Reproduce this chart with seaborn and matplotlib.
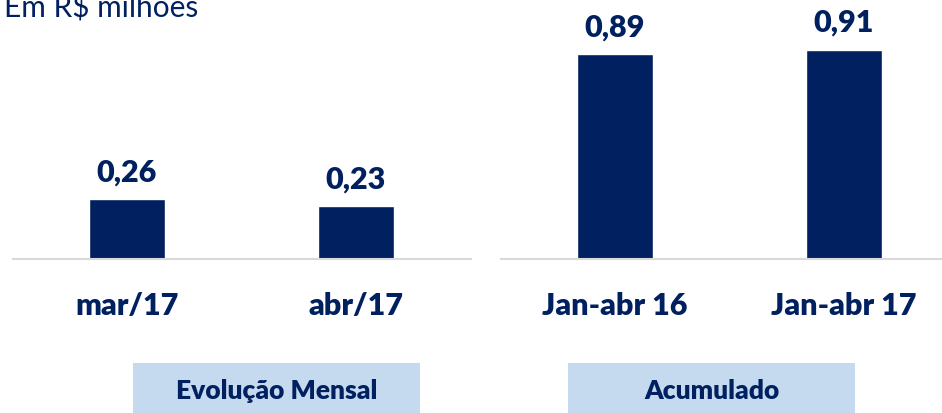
import matplotlib
matplotlib.use('Agg')
import matplotlib.pyplot as plt
import seaborn as sns
import pandas as pd
from matplotlib.patches import Rectangle

# Values (R$ milhões)
monthly_labels = ['mar/17', 'abr/17']
monthly_values = [0.26, 0.23]
accum_labels = ['Jan-abr 16', 'Jan-abr 17']
accum_values = [0.89, 0.91]
panel_titles = ['Evolução Mensal', 'Acumulado']
unit_text = 'Em R$ milhões'

navy = '#002060'
box_blue = '#C5DAEE'
axis_grey = '#D9D9D9'

sns.set_style('white')
plt.rcParams['font.family'] = ['Lato', 'DejaVu Sans']

W, H = 942, 413
fig = plt.figure(figsize=(W / 100, H / 100), dpi=100)

# axes in pixel terms: baseline at y=259 from top, ~230 px per unit
ax1 = fig.add_axes([12.5 / W, 154 / H, 458 / W, 253 / H])
ax2 = fig.add_axes([500.5 / W, 154 / H, 441.5 / W, 253 / H])

panels = [
    (ax1, monthly_labels, monthly_values, 1.5),
    (ax2, accum_labels, accum_values, 1.428),
]

for ax, labels, values, xmax in panels:
    df = pd.DataFrame({'periodo': labels, 'valor': values})
    sns.barplot(data=df, x='periodo', y='valor', color=navy, saturation=1,
                width=0.336, ax=ax)
    ax.set_xlim(-0.5, xmax)
    ax.set_ylim(0, 1.1)
    for i, v in enumerate(values):
        ax.annotate(f'{v:.2f}'.replace('.', ','), (i, v), xytext=(0, 13),
                    textcoords='offset points', ha='center', va='baseline',
                    fontsize=22, fontweight='heavy', color=navy,
                    annotation_clip=False)
    ax.set_xlabel('')
    ax.set_ylabel('')
    ax.set_yticks([])
    ax.tick_params(axis='x', length=0, pad=24, labelsize=22, labelcolor=navy)
    for lbl in ax.get_xticklabels():
        lbl.set_fontweight('heavy')
    for side in ['top', 'left', 'right']:
        ax.spines[side].set_visible(False)
    ax.spines['bottom'].set_color(axis_grey)
    ax.spines['bottom'].set_linewidth(1.5)
    ax.patch.set_alpha(0)

# section boxes below the axes
for (x0, x1), title in zip([(133, 420), (568, 855)], panel_titles):
    fig.patches.append(Rectangle((x0 / W, 0), (x1 - x0) / W, 50 / H,
                                 transform=fig.transFigure,
                                 facecolor=box_blue, edgecolor='none'))
    fig.text((x0 + x1) / 2 / W, 22 / H, title, ha='center', va='center',
             fontsize=19, fontweight='heavy', color=navy)

fig.text(4 / W, 1 - 17.5 / H, unit_text, ha='left', va='baseline',
         fontsize=21.5, color=navy)

fig.savefig('out.png', dpi=100)
